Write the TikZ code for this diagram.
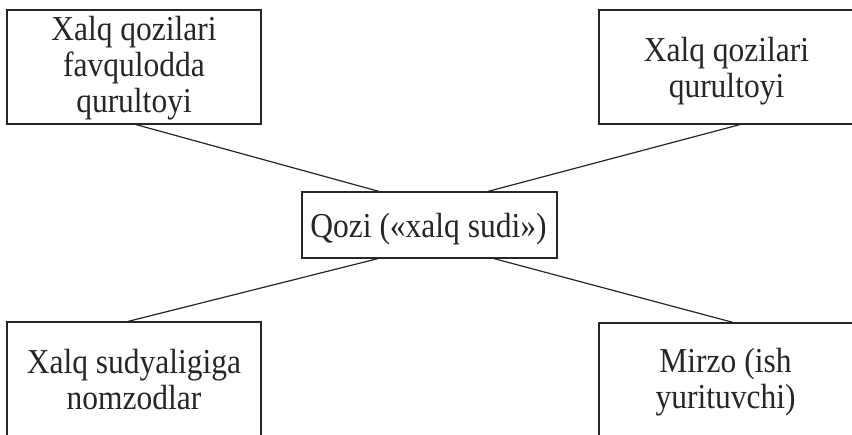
\documentclass[tikz,border=0pt]{standalone}
\usepackage{fontspec}
\setmainfont{Liberation Serif}[FakeStretch=0.9]
\begin{document}
\begin{tikzpicture}[x=1pt,y=-1pt,
  box/.style={draw=black!85,line width=1.2pt,rectangle,inner sep=0pt,minimum width=#1},
  box/.default=254pt,
  txt/.style={align=center,inner sep=0pt,font=\fontsize{35}{36}\selectfont,text=black!85},
  link/.style={draw=black!85,line width=1.2pt}]
\useasboundingbox (0,0) rectangle (852,435);
% boxes
\node[box=254pt,minimum height=114pt] (tl) at (134,67) {};
\node[box=255pt,minimum height=114pt] (tr) at (726.5,67) {};
\node[box=255pt,minimum height=66pt] (c) at (429.5,225) {};
\node[box=254pt,minimum height=130pt] (bl) at (134,387) {};
\node[box=255pt,minimum height=130pt] (br) at (726.5,388) {};
% texts
\node[txt] (tlt) at (134,68) {Xalq qozilari\\favqulodda\\qurultoyi};
\node[txt] (trt) at (726.5,71.6) {Xalq qozilari\\qurultoyi};
\node[txt,anchor=base] (ct) at (428.5,237.3) {Qozi («xalq sudi»)};
\node[txt] (blt) at (134,379.7) {Xalq sudyaligiga\\nomzodlar};
\node[txt] (brt) at (725.5,382.6) {Mirzo (ish\\yurituvchi)};
% connectors
\draw[link] ([xshift=2pt]tl.south) -- ([xshift=-50.5pt]c.north);
\draw[link] ([xshift=13.5pt]tr.south) -- ([xshift=58.5pt]c.north);
\draw[link] ([xshift=-51.5pt]c.south) -- ([xshift=-6pt]bl.north);
\draw[link] ([xshift=64.5pt]c.south) -- ([xshift=6.5pt]br.north);
\end{tikzpicture}
\end{document}
